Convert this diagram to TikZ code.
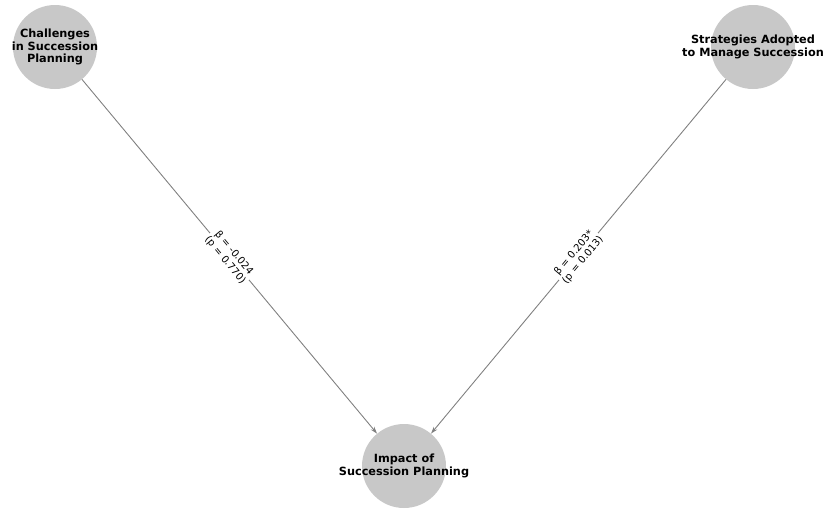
\documentclass[tikz,border=0pt]{standalone}
\usepackage{fontspec}
\setmainfont{DejaVu Sans}
\usetikzlibrary{arrows.meta}
\definecolor{nodegray}{HTML}{C8C8C8}
\definecolor{edgegray}{HTML}{808080}
\begin{document}
\begin{tikzpicture}[x=1pt,y=-1pt,
  vnode/.style={circle,fill=nodegray,minimum size=84pt,inner sep=0pt},
  vtext/.style={align=center,inner sep=0pt,font=\fontsize{11.3}{12.3}\selectfont\bfseries},
  conn/.style={draw=edgegray,line width=0.9pt,-{Stealth[length=7pt,width=4.5pt]}},
  elabel/.style={fill=white,inner sep=1.5pt,align=center,font=\fontsize{10}{11.5}\selectfont}]
\useasboundingbox (0,0) rectangle (826,509);
\node[vnode] (ch) at (55,47) {};
\node[vnode] (st) at (753,47) {};
\node[vnode] (im) at (404,466) {};
\node[vtext] (cht) at (ch.center) {Challenges\\in Succession\\Planning};
\node[vtext] (stt) at (st.center) {Strategies Adopted\\to Manage Succession};
\node[vtext] (imt) at (im.center) {Impact of\\Succession Planning};
\draw[conn] (ch) -- node[elabel,sloped] {β = -0.024\\(p = 0.770)} (im);
\draw[conn] (st) -- node[elabel,sloped] {β = 0.203*\\(p = 0.013)} (im);
\end{tikzpicture}
\end{document}
